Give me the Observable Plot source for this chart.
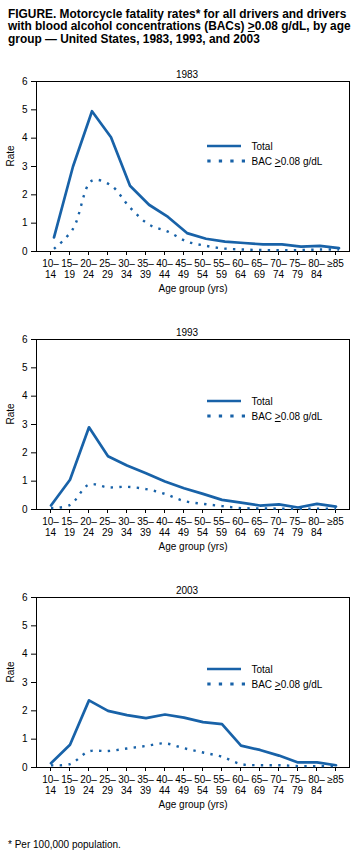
<!DOCTYPE html>
<html>
<head>
<meta charset="utf-8">
<script src="https://cdn.jsdelivr.net/npm/d3@7"></script>
<script src="https://cdn.jsdelivr.net/npm/@observablehq/plot@0.6"></script>
<style>
  html, body { margin: 0; padding: 0; background: #fff; overflow: hidden; }
  body { font-family: "Liberation Sans", Arial, Helvetica, sans-serif; color: #000; width: 363px; }
  #title { box-sizing: border-box; height: 60px; padding: 7.8px 0 0 8px; font-weight: bold; font-size: 11.9px; line-height: 12.5px; white-space: nowrap; }
  #charts svg { display: block; }
  #foot { font-size: 10px; line-height: 12px; padding: 4.8px 0 0 8px; white-space: nowrap; }
</style>
</head>
<body>
<div id="title">FIGURE. Motorcycle fatality rates* for all drivers and drivers<br>with blood alcohol concentrations (BACs) <u>&gt;</u>0.08 g/dL, by age<br>group — United States, 1983, 1993, and 2003</div>
<div id="charts"></div>
<div id="foot">* Per 100,000 population.</div>
<script>
// ---- data ----
const ageGroups = ["10–14","15–19","20–24","25–29","30–34","35–39","40–44","45–49","50–54","55–59","60–64","65–69","70–74","75–79","80–84","≥85"];
const tickLabels = ["10–\n14","15–\n19","20–\n24","25–\n29","30–\n34","35–\n39","40–\n44","45–\n49","50–\n54","55–\n59","60–\n64","65–\n69","70–\n74","75–\n79","80–\n84","≥85"];
const years = ["1983", "1993", "2003"];
const seriesNames = ["Total", "BAC ≥0.08 g/dL"];
const yTicks = [0, 1, 2, 3, 4, 5, 6];

const total1983 = [0.5, 3.0, 4.95, 4.03, 2.32, 1.65, 1.22, 0.65, 0.45, 0.35, 0.3, 0.25, 0.25, 0.17, 0.2, 0.12];
const bac1983   = [0.09, 0.8, 2.5, 2.33, 1.55, 0.95, 0.7, 0.35, 0.2, 0.1, 0.07, 0.05, 0.05, 0.05, 0.07, 0.07];
const total1993 = [0.14, 1.05, 2.9, 1.88, 1.55, 1.28, 0.99, 0.75, 0.55, 0.34, 0.24, 0.14, 0.18, 0.07, 0.2, 0.1];
const bac1993   = [0.05, 0.16, 0.88, 0.78, 0.8, 0.72, 0.55, 0.3, 0.2, 0.12, 0.05, 0.04, 0.03, 0.02, 0.03, 0.03];
const total2003 = [0.15, 0.8, 2.37, 2.0, 1.85, 1.74, 1.87, 1.76, 1.6, 1.53, 0.77, 0.62, 0.42, 0.18, 0.18, 0.08];
const bac2003   = [0.08, 0.12, 0.57, 0.58, 0.67, 0.76, 0.85, 0.68, 0.53, 0.38, 0.12, 0.08, 0.08, 0.05, 0.05, 0.05];

const totals = [total1983, total1993, total2003];
const bacs = [bac1983, bac1993, bac2003];

// ---- styling ----
const blue = "#1862a8";
const font = "Liberation Sans, Arial, Helvetica, sans-serif";
const legendTop = [65, 62, 72];   // px below frame top
const lineShift = [3.5, 0.5, 0.5];

function legendMark(top) {
  return (index, scales, values, dims) => {
    const g = d3.create("svg:g").attr("font-size", 10).attr("font-family", font)
      .attr("fill", "#000").attr("text-anchor", "start");
    const y1 = dims.marginTop + top, y2 = y1 + 15;
    g.append("line").attr("x1", 207).attr("x2", 241).attr("y1", y1).attr("y2", y1)
      .attr("stroke", blue).attr("stroke-width", 2.7);
    g.append("line").attr("x1", 207.3).attr("x2", 245).attr("y1", y2).attr("y2", y2)
      .attr("stroke", blue).attr("stroke-width", 3.2).attr("stroke-dasharray", "3.3,8.2");
    g.append("text").attr("x", 251.5).attr("y", y1 + 4.3).text(seriesNames[0]);
    const t = g.append("text").attr("x", 251.5).attr("y", y2 + 4);
    t.append("tspan").text("BAC\u00a0");
    t.append("tspan").attr("text-decoration", "underline").text(">");
    t.append("tspan").text("0.08 g/dL");
    return g.node();
  };
}

function panel(k) {
  const data = ageGroups.map((a, i) => ({age: a, total: totals[k][i], bac: bacs[k][i]}));
  return Plot.plot({
    width: 363,
    height: 258,
    marginLeft: 36,
    marginRight: 14,
    marginTop: 21,
    marginBottom: 67,
    style: {fontFamily: font, fontSize: "10px", color: "#000", background: "#fff", overflow: "visible"},
    x: {type: "point", domain: ageGroups, padding: 0.55},
    y: {domain: [0, 6]},
    marks: [
      Plot.axisY({ticks: yTicks, tickFormat: "d", tickSize: 5, tickPadding: 4, label: null, stroke: "#000"}),
      Plot.axisX({tickSize: 4, tickPadding: 4, label: null, lineHeight: 1.1,
        tickFormat: (d) => tickLabels[ageGroups.indexOf(d)], stroke: "#000"}),
      Plot.frame({stroke: "#000", strokeWidth: 1}),
      Plot.line(data, {x: "age", y: "bac", stroke: blue, strokeWidth: 2.4, strokeLinecap: "butt",
        strokeDasharray: "2.4,6.3", curve: "catmull-rom", dx: lineShift[k]}),
      Plot.line(data, {x: "age", y: "total", stroke: blue, strokeWidth: 2.7, dx: lineShift[k]}),
      Plot.text([years[k]], {frameAnchor: "top", text: (d) => d, dx: -6, dy: -3.7, lineAnchor: "bottom", fontSize: 10}),
      Plot.text(["Rate"], {frameAnchor: "left", text: (d) => d, rotate: -90, dx: -26, fontSize: 10}),
      Plot.text(["Age group (yrs)"], {frameAnchor: "bottom", text: (d) => d, dy: 40, lineAnchor: "bottom", fontSize: 10}),
      legendMark(legendTop[k])
    ]
  });
}

const host = document.getElementById("charts");
years.forEach((y, k) => host.appendChild(panel(k)));
</script>
</body>
</html>
